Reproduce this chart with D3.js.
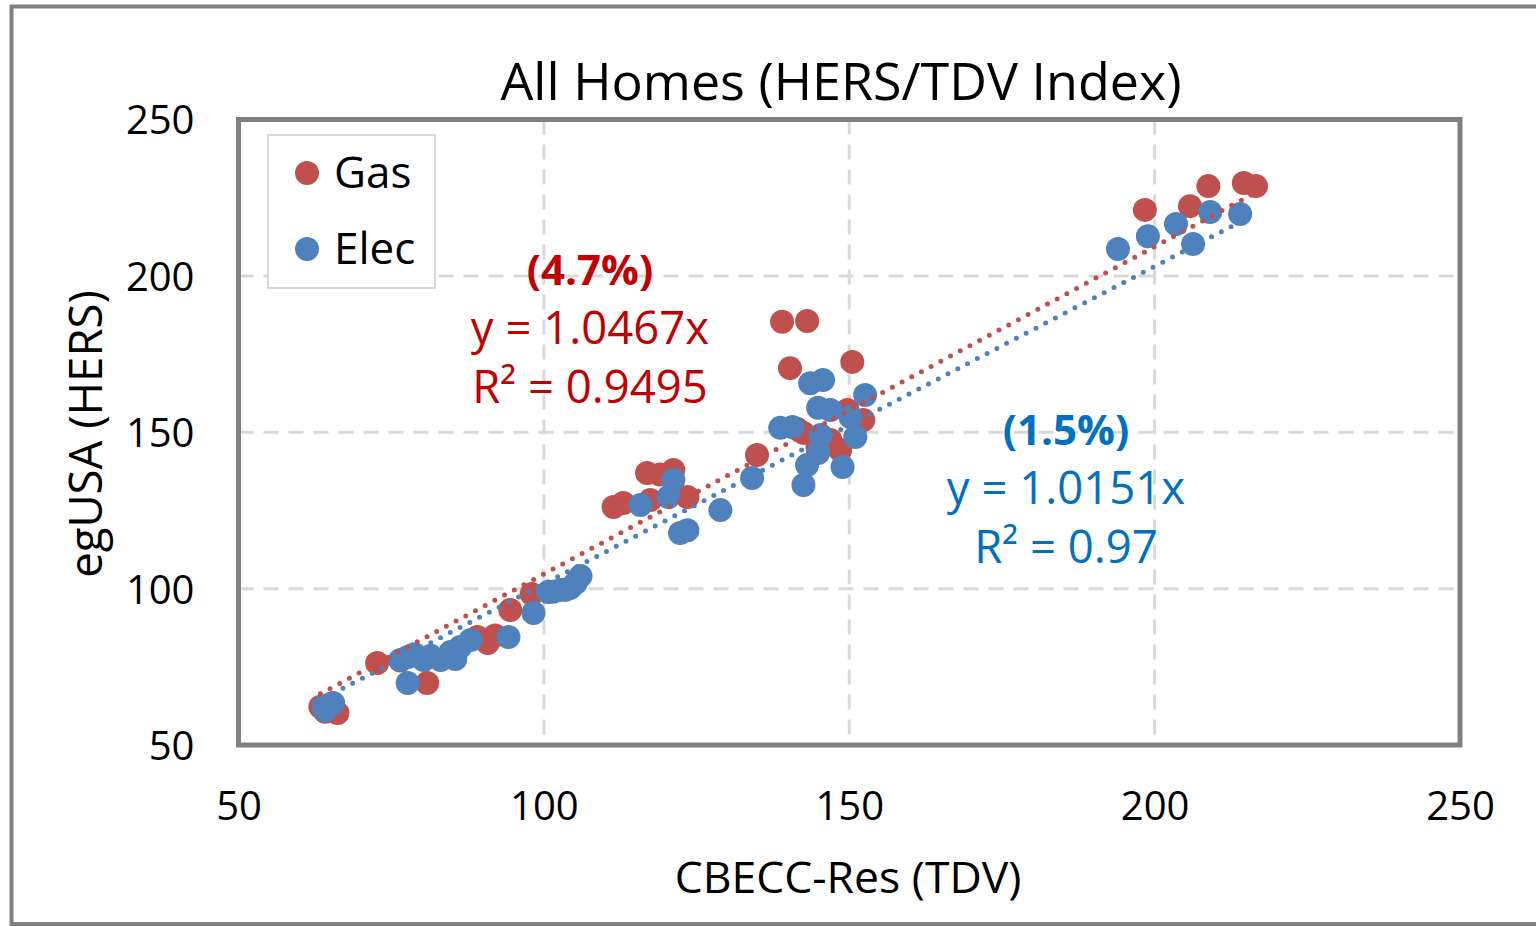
<!DOCTYPE html>
<html>
<head>
<meta charset="utf-8">
<script src="https://cdn.jsdelivr.net/npm/d3@7"></script>
<style>
  body { margin: 0; background: #fff; }
  svg text { font-family: "Open Sans", sans-serif; }
</style>
</head>
<body>
<svg id="chart" width="1536" height="926"></svg>
<script>
// Gas series (CBECC-Res TDV, egUSA HERS)
const gasX = [139.0, 143.1, 140.3, 150.5, 134.9, 142.5, 146.9, 148.5, 152.3, 149.7, 144.8, 141.5,
  111.4, 113.0, 116.9, 121.2, 117.4, 123.5, 119.0,
  198.4, 205.8, 208.8, 214.6, 216.6,
  98.0, 94.5, 90.8, 89.1, 92.0, 72.7, 80.9, 76.5, 63.4, 66.2, 64.2, 65.0];
const gasY = [185.3, 185.6, 170.5, 172.5, 142.7, 149.8, 147.5, 144.3, 153.9, 157.1, 145.3, 151.0,
  126.1, 127.4, 137.0, 137.9, 128.3, 129.3, 136.5,
  221.1, 222.3, 228.7, 229.7, 228.7,
  98.3, 93.2, 82.6, 84.5, 85.0, 76.2, 69.8, 77.0, 62.2, 60.2, 60.6, 63.0];

// Elec series
const elecX = [194.0, 198.9, 203.5, 206.3, 209.1, 214.0,
  143.6, 145.7, 152.6, 144.9, 146.9, 138.7, 140.7, 145.3, 150.2, 151.0, 144.9, 143.1, 148.9, 142.5, 134.1,
  115.8, 121.2, 120.4, 128.9, 122.3, 123.5,
  98.3, 100.7, 102.7, 104.3, 105.2, 106.0, 103.5, 101.5,
  94.2, 88.0, 86.3, 84.7, 83.1, 81.5, 80.3, 78.8, 77.7, 76.5, 77.7, 85.5,
  63.9, 65.5, 64.7, 64.2];
const elecY = [208.6, 212.7, 216.6, 210.2, 220.4, 219.8,
  165.7, 166.7, 161.9, 157.8, 157.1, 151.4, 151.7, 149.1, 154.9, 148.5, 143.4, 139.5, 138.9, 133.1, 135.4,
  126.7, 134.7, 129.3, 125.1, 117.8, 118.7,
  92.2, 98.9, 99.6, 100.2, 101.8, 104.0, 99.6, 99.0,
  84.5, 83.6, 81.3, 79.7, 77.2, 78.5, 77.2, 79.0, 78.1, 77.2, 69.8, 77.5,
  62.2, 63.4, 62.5, 61.0];

// linear trendlines through origin
const gasSlope = 1.0467;
const elecSlope = 1.0151;

const xTicks = [50, 100, 150, 200, 250];
const yTicks = [50, 100, 150, 200, 250];

const gasColor = '#c0504d';
const elecColor = '#4f81bd';

const svg = d3.select('#chart');

const x = d3.scaleLinear().domain([50, 250]).range([238.5, 1460]);
const y = d3.scaleLinear().domain([50, 250]).range([745, 119.5]);

// Outer chart frame
svg.append('rect')
  .attr('x', 11.5).attr('y', 6.5)
  .attr('width', 1540).attr('height', 917.5)
  .attr('fill', 'none')
  .attr('stroke', '#808080')
  .attr('stroke-width', 4);

// Grid lines (dashed)
const grid = svg.append('g');
grid.selectAll('.gx')
  .data(xTicks.slice(1, -1))
  .join('line')
  .attr('x1', d => x(d)).attr('x2', d => x(d))
  .attr('y1', y(250)).attr('y2', y(50))
  .attr('stroke', '#d9d9d9').attr('stroke-width', 3)
  .attr('stroke-dasharray', '15,10');
grid.selectAll('.gy')
  .data(yTicks.slice(1, -1))
  .join('line')
  .attr('x1', x(50)).attr('x2', x(250))
  .attr('y1', d => y(d)).attr('y2', d => y(d))
  .attr('stroke', '#d9d9d9').attr('stroke-width', 3)
  .attr('stroke-dasharray', '15,10');

// Axes (labels only)
const xAxis = svg.append('g')
  .attr('transform', `translate(0,${y(50)})`)
  .call(d3.axisBottom(x).tickValues(xTicks).tickSize(0).tickPadding(55));
const yAxis = svg.append('g')
  .attr('transform', `translate(${x(50)},0)`)
  .call(d3.axisLeft(y).tickValues(yTicks).tickSize(0).tickPadding(44));
[xAxis, yAxis].forEach(a => {
  a.select('.domain').remove();
  a.selectAll('text')
    .attr('font-size', '40px')
    .attr('font-family', '"Open Sans", sans-serif')
    .attr('fill', '#000');
});
xAxis.selectAll('text').attr('dy', '0.5em');
yAxis.selectAll('text').attr('dy', '0.36em');

// Markers
const gasPts = gasX.map((v, i) => [v, gasY[i]]);
const elecPts = elecX.map((v, i) => [v, elecY[i]]);

svg.append('g').selectAll('circle')
  .data(gasPts)
  .join('circle')
  .attr('cx', d => x(d[0])).attr('cy', d => y(d[1]))
  .attr('r', 12)
  .attr('fill', gasColor);

svg.append('g').selectAll('circle')
  .data(elecPts)
  .join('circle')
  .attr('cx', d => x(d[0])).attr('cy', d => y(d[1]))
  .attr('r', 12)
  .attr('fill', elecColor);

// Trendlines (round dotted)
const trend = (pts, slope, color) => {
  const xs = d3.extent(pts, d => d[0]);
  svg.append('line')
    .attr('x1', x(xs[0])).attr('y1', y(xs[0] * slope))
    .attr('x2', x(xs[1])).attr('y2', y(xs[1] * slope))
    .attr('stroke', color)
    .attr('stroke-width', 5)
    .attr('stroke-linecap', 'round')
    .attr('stroke-dasharray', '0,11');
};
trend(gasPts, gasSlope, gasColor);
trend(elecPts, elecSlope, elecColor);

// Plot area border
svg.append('rect')
  .attr('x', x(50)).attr('y', y(250))
  .attr('width', x(250) - x(50)).attr('height', y(50) - y(250))
  .attr('fill', 'none')
  .attr('stroke', '#808080')
  .attr('stroke-width', 5);

// Title
svg.append('text')
  .attr('x', 841).attr('y', 100)
  .attr('text-anchor', 'middle')
  .attr('font-size', '52px')
  .attr('fill', '#000')
  .text('All Homes (HERS/TDV Index)');

// Axis titles
svg.append('text')
  .attr('x', 848).attr('y', 893)
  .attr('text-anchor', 'middle')
  .attr('font-size', '44.5px')
  .attr('fill', '#000')
  .text('CBECC-Res (TDV)');
svg.append('text')
  .attr('transform', 'translate(102,434) rotate(-90)')
  .attr('text-anchor', 'middle')
  .attr('font-size', '45.5px')
  .attr('fill', '#000')
  .text('egUSA (HERS)');

// Legend
const legend = svg.append('g');
legend.append('rect')
  .attr('x', 268).attr('y', 135)
  .attr('width', 167).attr('height', 153)
  .attr('fill', '#fff')
  .attr('stroke', '#d9d9d9')
  .attr('stroke-width', 2);
[['Gas', gasColor, 173], ['Elec', elecColor, 249]].forEach(([label, color, cy]) => {
  legend.append('circle').attr('cx', 307).attr('cy', cy).attr('r', 12).attr('fill', color);
  legend.append('text')
    .attr('x', 334).attr('y', cy + 15)
    .attr('font-size', '44px')
    .attr('fill', '#000')
    .text(label);
});

// Trendline annotations
const annot = (lines, cx, y0, color) => {
  lines.forEach(([txt, bold], i) => {
    svg.append('text')
      .attr('x', cx).attr('y', y0 + i * 59)
      .attr('text-anchor', 'middle')
      .attr('font-size', bold ? '42px' : '45.5px')
      .attr('font-weight', bold ? 'bold' : 'normal')
      .attr('fill', color)
      .text(txt);
  });
};
annot([['(4.7%)', true], ['y = 1.0467x', false], ['R² = 0.9495', false]], 590, 285, '#c00000');
annot([['(1.5%)', true], ['y = 1.0151x', false], ['R² = 0.97', false]], 1066, 445, '#0070c0');
</script>
</body>
</html>
